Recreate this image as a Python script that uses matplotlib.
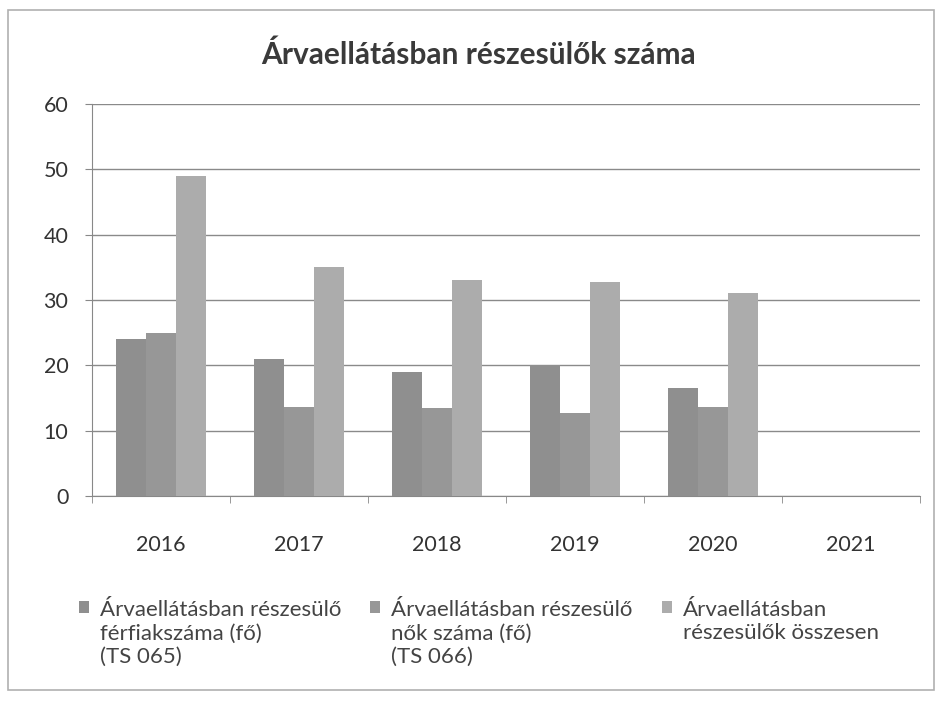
import matplotlib
matplotlib.use("Agg")
import matplotlib.pyplot as plt
import numpy as np
from matplotlib.patches import Rectangle
from matplotlib.legend_handler import HandlerPatch, update_from_first_child

years = ["2016", "2017", "2018", "2019", "2020", "2021"]
ferfiak = [24, 21, 19, 20, 16.5, 0]
nok = [25, 13.6, 13.5, 12.7, 13.6, 0]
osszesen = [49, 35, 33, 32.8, 31, 0]
labels = ["Árvaellátásban részesülő\nférfiakszáma (fő)\n(TS 065)",
          "Árvaellátásban részesülő\nnők száma (fő)\n(TS 066)",
          "Árvaellátásban\nrészesülők összesen\n "]
title = "Árvaellátásban részesülők száma"

plt.rcParams['font.family'] = ['Lato', 'DejaVu Sans']

fig = plt.figure(figsize=(9.4, 7.02), dpi=100)
ax = fig.add_axes([92/940, 1-496/702, (920-92)/940, (496-104)/702])

x = np.arange(len(years))
w = 0.218
colors = ["#8f8f8f", "#979797", "#acacac"]
conts = []
for i, (vals, c) in enumerate(zip([ferfiak, nok, osszesen], colors)):
    conts.append(ax.bar(x + (i - 1) * w, vals, width=w, color=c, label=labels[i], zorder=3))

ax.set_xlim(-0.5, len(years) - 0.5)
ax.set_ylim(0, 60)
ax.set_yticks(range(0, 61, 10))
ax.yaxis.grid(True, color="#8a8a8a", linewidth=1.0, zorder=0)
ax.set_xticks(x)
ax.set_xticklabels(years)
ax.set_xticks(np.arange(-0.5, len(years)), minor=True)
ax.tick_params(axis="x", which="major", length=0, pad=28, labelsize=15.5, colors="#333333")
ax.tick_params(axis="x", which="minor", length=5, color="#888888")
ax.tick_params(axis="y", length=5, color="#888888", labelsize=15.5, labelcolor="#333333", pad=12)
for s in ["top", "right"]:
    ax.spines[s].set_visible(False)
for s in ["left", "bottom"]:
    ax.spines[s].set_color("#888888")

ax.set_title(title, fontsize=21.5, color="#3a3a3a", pad=29, fontweight="bold",
             x=(478-92)/828)

LFS = 16

def make_handler(nlines):
    def pf(legend, orig_handle, xdescent, ydescent, width, height, fontsize):
        shift = (nlines - 1) / 2 * fontsize * 1.2
        return Rectangle((-xdescent, -ydescent + shift), width, height)
    return HandlerPatch(patch_func=pf, update_func=update_from_first_child)

hmap = {conts[i]: make_handler(labels[i].count("\n") + 1) for i in range(3)}

leg = ax.legend(loc="upper left", bbox_to_anchor=(-0.04, -0.215), ncol=3, frameon=False,
                fontsize=LFS, handlelength=0.45, handleheight=0.45, handletextpad=0.5,
                columnspacing=1.3, labelcolor="#444444", handler_map=hmap)

fig.patches.append(Rectangle((8/940, 12/702), 926/940, 680/702, transform=fig.transFigure,
                             fill=False, edgecolor="#b0b0b0", linewidth=1.2))

fig.savefig("out.png", dpi=100)
